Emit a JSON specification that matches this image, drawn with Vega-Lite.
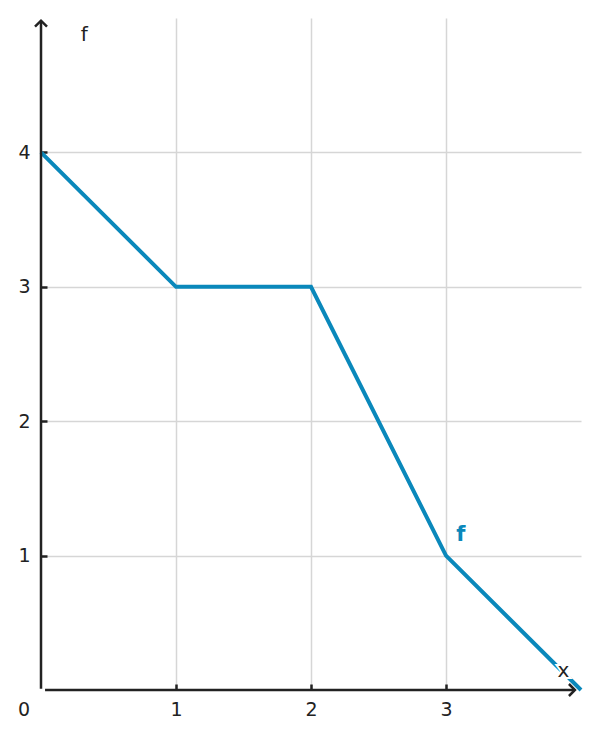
{
  "$schema": "https://vega.github.io/schema/vega-lite/v6.json",
  "width": 540,
  "height": 672,
  "autosize": {"type": "none"},
  "padding": {"left": 41, "top": 18, "right": 16, "bottom": 49},
  "background": "white",
  "layer": [
    {
      "data": {"values": [
        {"x": 0, "f": 4},
        {"x": 1, "f": 3},
        {"x": 2, "f": 3},
        {"x": 3, "f": 1},
        {"x": 4, "f": 0}
      ]},
      "mark": {"type": "line", "color": "#0a88bb", "strokeWidth": 4, "strokeCap": "butt", "clip": false},
      "encoding": {
        "x": {
          "field": "x", "type": "quantitative",
          "scale": {"domain": [0, 4], "nice": false, "zero": false},
          "axis": {"values": [1, 2, 3], "format": "d", "title": null, "domain": false, "tickSize": -6, "labelPadding": 16}
        },
        "y": {
          "field": "f", "type": "quantitative",
          "scale": {"domain": [0, 5], "nice": false, "zero": false},
          "axis": {"values": [1, 2, 3, 4], "format": "d", "title": null, "domain": false, "tickSize": -6, "labelPadding": 17}
        }
      }
    },
    {
      "data": {"values": [{}]},
      "mark": {"type": "rule", "color": "#222222", "strokeWidth": 2.5},
      "encoding": {
        "x": {"datum": 0, "type": "quantitative"},
        "y": {"datum": 0.01, "type": "quantitative"},
        "y2": {"datum": 4.98}
      }
    },
    {
      "data": {"values": [{}]},
      "mark": {"type": "rule", "color": "#222222", "strokeWidth": 2.5},
      "encoding": {
        "y": {"datum": 0, "type": "quantitative"},
        "x": {"datum": 0.03, "type": "quantitative"},
        "x2": {"datum": 3.955}
      }
    },
    {
      "data": {"values": [{}]},
      "mark": {"type": "point", "shape": "M-1,1L0,0L1,1", "size": 144, "filled": false, "stroke": "#222222", "strokeWidth": 2.5, "opacity": 1},
      "encoding": {
        "x": {"datum": 0, "type": "quantitative"},
        "y": {"datum": 4.98, "type": "quantitative"}
      }
    },
    {
      "data": {"values": [{}]},
      "mark": {"type": "point", "shape": "M-1,-1L0,0L-1,1", "size": 144, "filled": false, "stroke": "#222222", "strokeWidth": 2.5, "opacity": 1},
      "encoding": {
        "x": {"datum": 3.955, "type": "quantitative"},
        "y": {"datum": 0, "type": "quantitative"}
      }
    },
    {
      "data": {"values": [{}]},
      "mark": {"type": "text", "text": "0", "fontSize": 19, "color": "#222222", "dx": -17, "dy": 20},
      "encoding": {
        "x": {"datum": 0, "type": "quantitative"},
        "y": {"datum": 0, "type": "quantitative"}
      }
    },
    {
      "data": {"values": [{}]},
      "mark": {"type": "text", "text": "f", "fontSize": 20, "color": "#222222"},
      "encoding": {
        "x": {"datum": 0.32, "type": "quantitative"},
        "y": {"datum": 4.87, "type": "quantitative"}
      }
    },
    {
      "data": {"values": [{}]},
      "mark": {"type": "text", "text": "x", "fontSize": 20, "color": "white", "stroke": "white", "strokeWidth": 4},
      "encoding": {
        "x": {"datum": 3.87, "type": "quantitative"},
        "y": {"datum": 0.14, "type": "quantitative"}
      }
    },
    {
      "data": {"values": [{}]},
      "mark": {"type": "text", "text": "x", "fontSize": 20, "color": "#222222"},
      "encoding": {
        "x": {"datum": 3.87, "type": "quantitative"},
        "y": {"datum": 0.14, "type": "quantitative"}
      }
    },
    {
      "data": {"values": [{}]},
      "mark": {"type": "text", "text": "f", "fontSize": 21, "fontWeight": "bold", "color": "#0a88bb"},
      "encoding": {
        "x": {"datum": 3.11, "type": "quantitative"},
        "y": {"datum": 1.15, "type": "quantitative"}
      }
    }
  ],
  "config": {
    "font": "DejaVu Sans",
    "view": {"stroke": null},
    "axis": {
      "grid": true,
      "gridColor": "#d6d6d6",
      "gridWidth": 1.5,
      "tickColor": "#222222",
      "tickWidth": 2.5,
      "labelFont": "DejaVu Sans",
      "labelFontSize": 19,
      "labelColor": "#222222"
    }
  }
}
